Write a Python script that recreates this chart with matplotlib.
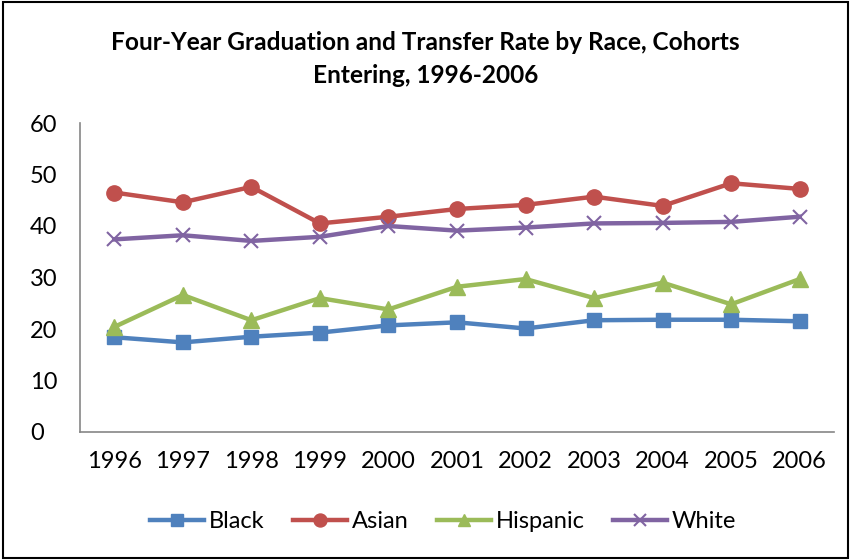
import matplotlib.pyplot as plt
from matplotlib.patches import Rectangle

years = ["1996", "1997", "1998", "1999", "2000", "2001", "2002", "2003", "2004", "2005", "2006"]
black = [18.4, 17.4, 18.5, 19.3, 20.7, 21.3, 20.1, 21.7, 21.8, 21.8, 21.5]
asian = [46.5, 44.6, 47.6, 40.5, 41.8, 43.3, 44.1, 45.7, 43.9, 48.3, 47.2]
hispanic = [20.4, 26.6, 21.7, 26.0, 23.8, 28.2, 29.7, 26.0, 29.0, 24.8, 29.7]
white = [37.4, 38.2, 37.1, 37.9, 40.0, 39.1, 39.7, 40.5, 40.6, 40.8, 41.8]

plt.rcParams['font.family'] = ['Lato', 'DejaVu Sans']

fig = plt.figure(figsize=(8.51, 5.6), dpi=100)
ax = fig.add_axes([80 / 851, 1 - 432 / 560, (834 - 80) / 851, (432 - 123) / 560])

x = range(len(years))
ax.plot(x, black, color="#4F81BD", lw=3.2, marker="s", ms=10, label="Black")
ax.plot(x, asian, color="#C0504D", lw=3.2, marker="o", ms=11, label="Asian")
ax.plot(x, hispanic, color="#9BBB59", lw=3.2, marker="^", ms=11, label="Hispanic")
ax.plot(x, white, color="#8064A2", lw=3.2, marker="x", ms=10, mew=1.5, label="White")

ax.set_xlim(-0.5, len(years) - 0.5)
ax.set_ylim(0, 60)
ax.set_xticks(list(x))
ax.set_xticklabels(years)
ax.set_yticks(range(0, 61, 10))
ax.tick_params(length=0, labelsize=17, pad=14)
ax.tick_params(axis="y", pad=36)
for lab in ax.get_yticklabels():
    lab.set_horizontalalignment("left")
for s in ["top", "right"]:
    ax.spines[s].set_visible(False)
for s in ["left", "bottom"]:
    ax.spines[s].set_color("#868686")
    ax.spines[s].set_linewidth(1.2)

fig.text(0.5, 1 - 59 / 560, "Four-Year Graduation and Transfer Rate by Race, Cohorts\nEntering, 1996-2006",
         ha="center", va="center", fontsize=17.6, fontweight="bold", linespacing=1.5)

fig.legend(loc="center", bbox_to_anchor=(443 / 851, 1 - 522 / 560), ncol=4, frameon=False,
           fontsize=17, handlelength=2.3, handletextpad=0.2, columnspacing=1.2, markerscale=0.85)

fig.patches.append(Rectangle((3 / 851, 2 / 560), 845 / 851, 556 / 560, transform=fig.transFigure,
                             fill=False, edgecolor="black", lw=1.5))

fig.savefig("out.png", dpi=100)
